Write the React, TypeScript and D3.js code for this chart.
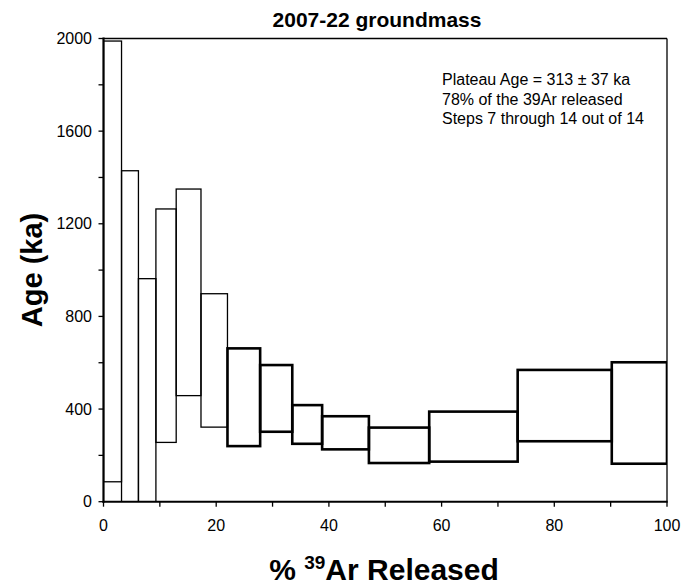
import React from "react";
import * as d3 from "d3";

// Incremental heating steps: cumulative % 39Ar edges and 1-sigma age envelope (ka)
const stepEdges = [0, 3.2, 6.2, 9.3, 12.9, 17.3, 22.0, 27.8, 33.5, 38.8, 47.1, 57.8, 73.5, 90.2, 100];
const ageHigh = [1989, 1429, 963, 1264, 1350, 898, 662, 590, 417, 369, 320, 389, 569, 602];
const ageLow = [86, -150, -40, 256, 458, 322, 240, 302, 250, 226, 167, 173, 261, 164];
const plateauFirstStep = 7;

const xTicks = [0, 20, 40, 60, 80, 100];
const xMinorTicks = [10, 30, 50, 70, 90];
const yTicks = [0, 400, 800, 1200, 1600, 2000];
const yMinorTicks = [200, 600, 1000, 1400, 1800];

const titleText = "2007-22 groundmass";
const noteLines = [
  "Plateau Age = 313 ± 37 ka",
  "78% of the 39Ar released",
  "Steps 7 through 14 out of 14",
];

const W = 683;
const H = 588;
const M = { left: 103.5, right: 667, top: 38.5, bottom: 501.7 };
const FONT = "'Liberation Sans', Arial, Helvetica, sans-serif";

export default function App() {
  const x = d3.scaleLinear().domain([0, 100]).range([M.left, M.right]);
  const y = d3.scaleLinear().domain([0, 2000]).range([M.bottom, M.top]);

  const steps = ageHigh.map((hi, i) => ({
    x0: stepEdges[i],
    x1: stepEdges[i + 1],
    hi,
    lo: ageLow[i],
    plateau: i + 1 >= plateauFirstStep,
  }));

  const tickLen = 5;

  return (
    <>
      <style>{`body{margin:0}`}</style>
      <svg width={W} height={H} style={{ display: "block", background: "#fff" }} fontFamily={FONT}>
        <defs>
          <clipPath id="plotClip">
            <rect x={M.left} y={M.top} width={M.right - M.left} height={M.bottom - M.top} />
          </clipPath>
        </defs>

        {/* step boxes */}
        <g clipPath="url(#plotClip)">
          {steps.map((s, i) => (
            <rect
              key={i}
              x={x(s.x0)}
              y={y(s.hi)}
              width={x(s.x1) - x(s.x0)}
              height={y(s.lo) - y(s.hi)}
              fill="none"
              stroke="#000"
              strokeWidth={s.plateau ? 2.6 : 1.3}
            />
          ))}
        </g>

        {/* frame: top and right thin */}
        <line x1={M.left} x2={M.right} y1={M.top} y2={M.top} stroke="#000" strokeWidth={1.3} />
        <line x1={M.right} x2={M.right} y1={M.top} y2={M.bottom} stroke="#000" strokeWidth={1.3} />
        {/* axes: left and bottom heavier */}
        <line x1={M.left} x2={M.left} y1={M.top - 1} y2={M.bottom + 1} stroke="#000" strokeWidth={2.2} />
        <line x1={M.left - 1} x2={M.right + 0.7} y1={M.bottom} y2={M.bottom} stroke="#000" strokeWidth={2} />

        {/* x ticks */}
        {xTicks.concat(xMinorTicks).map((t) => (
          <line key={"xt" + t} x1={x(t)} x2={x(t)} y1={M.bottom} y2={M.bottom + tickLen} stroke="#000" strokeWidth={1.3} />
        ))}
        {xTicks.map((t) => (
          <text key={"xl" + t} x={x(t)} y={530.5} textAnchor="middle" fontSize={16} fill="#000">
            {t}
          </text>
        ))}

        {/* y ticks */}
        {yTicks.concat(yMinorTicks).map((t) => (
          <line key={"yt" + t} x1={M.left - tickLen} x2={M.left} y1={y(t)} y2={y(t)} stroke="#000" strokeWidth={1.3} />
        ))}
        {yTicks.map((t) => (
          <text key={"yl" + t} x={92} y={y(t)} dy="0.35em" textAnchor="end" fontSize={16} fill="#000">
            {t}
          </text>
        ))}

        {/* title */}
        <text x={377} y={26.5} textAnchor="middle" fontSize={21} fontWeight="bold" fill="#000">
          {titleText}
        </text>

        {/* axis titles */}
        <text x={384} y={580} textAnchor="middle" fontSize={30} fontWeight="bold" fill="#000">
          <tspan>% </tspan>
          <tspan fontSize={19} dy={-11}>39</tspan>
          <tspan dy={11}>Ar Released</tspan>
        </text>
        <text
          transform={`translate(42,270) rotate(-90)`}
          textAnchor="middle"
          fontSize={29}
          fontWeight="bold"
          fill="#000"
        >
          Age (ka)
        </text>

        {/* plateau annotation */}
        {noteLines.map((line, i) => (
          <text key={"n" + i} x={442} y={85 + i * 19.5} fontSize={16} fill="#000">
            {line}
          </text>
        ))}
      </svg>
    </>
  );
}
